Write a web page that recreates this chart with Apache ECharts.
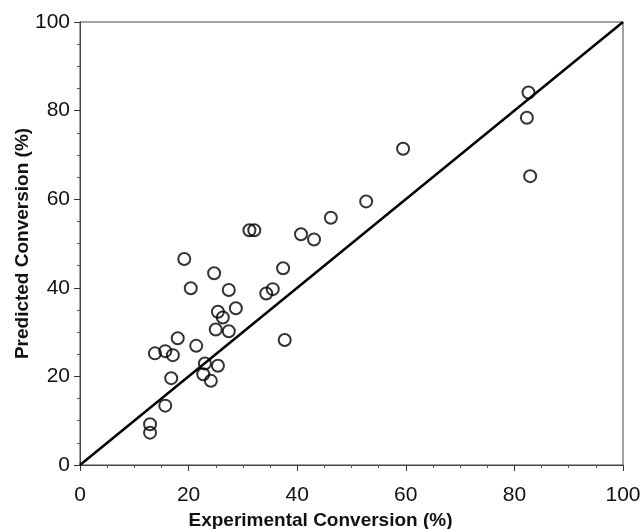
<!DOCTYPE html>
<html>
<head>
<meta charset="utf-8">
<script src="https://cdn.jsdelivr.net/npm/echarts@6/dist/echarts.min.js"></script>
<style>html,body{margin:0;padding:0;background:#fff}#c{width:640px;height:529px}</style>
</head>
<body>
<div id="c"></div>
<script>
var experimental = [19.2, 24.7, 20.4, 27.4, 28.7, 25.4, 26.3, 25.0, 27.4, 18.0, 21.4, 13.8, 15.7, 17.1, 23.0, 25.4, 22.7, 24.1, 16.8, 15.7, 12.9, 12.9, 31.2, 32.1, 40.7, 43.1, 46.2, 52.7, 59.5, 37.4, 35.5, 34.3, 37.7, 82.6, 82.3, 82.9];
var predicted    = [46.5, 43.3, 39.9, 39.5, 35.4, 34.6, 33.3, 30.6, 30.2, 28.6, 26.9, 25.2, 25.7, 24.8, 22.9, 22.4, 20.5, 19.0, 19.6, 13.4, 9.2, 7.3, 53.0, 53.0, 52.1, 50.9, 55.8, 59.5, 71.4, 44.4, 39.7, 38.7, 28.2, 84.1, 78.4, 65.2];
var parityLine = [[0, 0], [100, 100]];

var points = experimental.map(function (x, i) { return [x, predicted[i]]; });
var chart = echarts.init(document.getElementById('c'));
var font = 'Liberation Sans, Arial, sans-serif';
chart.setOption({
  animation: false,
  grid: { left: 80, right: 17, top: 22, bottom: 64, containLabel: false, outerBoundsMode: 'none',
          show: true, borderColor: '#444', borderWidth: 1 },
  xAxis: {
    type: 'value', min: 0, max: 100, interval: 20,
    name: 'Experimental Conversion (%)', nameLocation: 'middle', nameGap: 46, nameMoveOverlap: false,
    nameTextStyle: { fontFamily: font, fontWeight: 'bold', fontSize: 19, color: '#111', padding: [0, 62, 0, 0] },
    axisLine: { lineStyle: { color: '#444', width: 1 } },
    axisTick: { inside: false, length: 6, lineStyle: { color: '#333' } },
    minorTick: { show: true, splitNumber: 4, length: 3, lineStyle: { color: '#555' } },
    axisLabel: { fontFamily: font, fontSize: 21, color: '#111', margin: 20 },
    splitLine: { show: false }
  },
  yAxis: {
    type: 'value', min: 0, max: 100, interval: 20,
    name: 'Predicted Conversion (%)', nameLocation: 'middle', nameGap: 48, nameMoveOverlap: false,
    nameTextStyle: { fontFamily: font, fontWeight: 'bold', fontSize: 19, color: '#111' },
    axisLine: { lineStyle: { color: '#444', width: 1 } },
    axisTick: { inside: false, length: 6, lineStyle: { color: '#333' } },
    minorTick: { show: true, splitNumber: 4, length: 3, lineStyle: { color: '#555' } },
    axisLabel: { fontFamily: font, fontSize: 21, color: '#111', margin: 10 },
    splitLine: { show: false }
  },
  series: [
    { type: 'line', data: parityLine, symbol: 'none', lineStyle: { color: '#000', width: 2.5 }, z: 1 },
    { type: 'scatter', data: points, symbol: 'circle', symbolSize: 12,
      itemStyle: { color: 'rgba(255,255,255,0)', borderColor: '#000', borderWidth: 2 }, z: 2 }
  ]
});
</script>
</body>
</html>
